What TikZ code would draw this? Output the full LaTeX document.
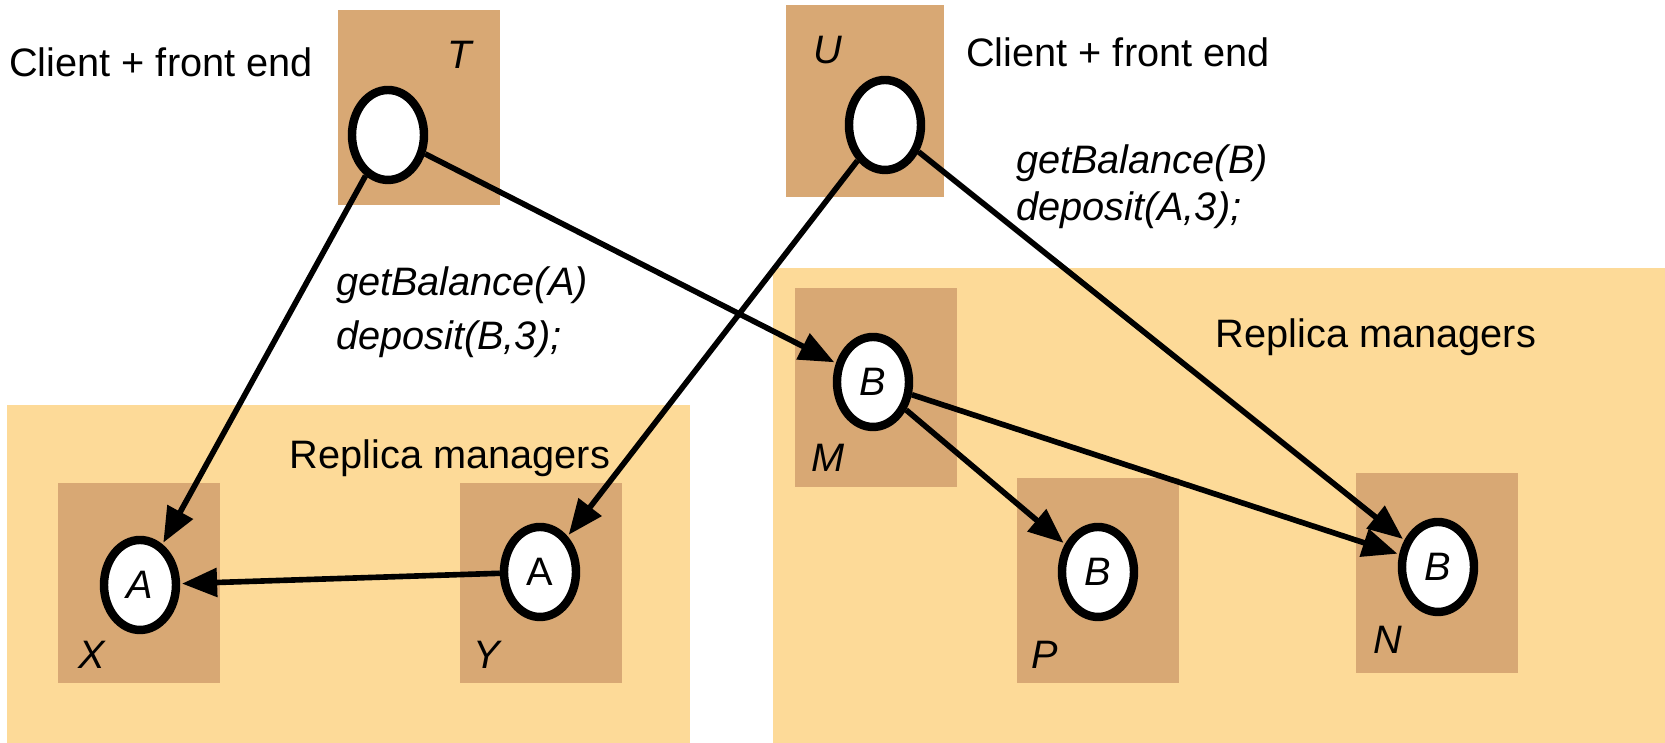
\documentclass[tikz,border=0pt]{standalone}
\usepackage{fontspec}
\setmainfont{Liberation Sans}
\usepackage{tikz}
\usetikzlibrary{arrows.meta, shapes.geometric}

\definecolor{rmlight}{RGB}{253,218,152}
\definecolor{rmdark}{RGB}{216,168,116}

\begin{document}
\begin{tikzpicture}[every node/.style={font=\fontsize{11.3}{13.5}\selectfont},
	group/.style={rectangle, fill=rmlight, inner sep=0pt},
	site/.style={rectangle, fill=rmdark, inner sep=0pt, minimum width=1.62cm, minimum height=2cm},
	obj/.style={ellipse, draw, line width=2.4pt, fill=white, inner sep=0pt, minimum width=0.72cm, minimum height=0.9cm},
	req/.style={-{Triangle[length=10pt, width=8pt]}, line width=1.6pt, shorten >=0.5pt},
	]
	\useasboundingbox (0,0) rectangle (16.65,7.43);
	
	% replica manager groups
	\node[group, minimum width=6.83cm, minimum height=3.38cm] (GL) at (3.485,1.69) {};
	\node[group, minimum width=8.92cm, minimum height=4.75cm] (GR) at (12.19,2.375) {};
	\node (RL) at (4.50,2.85) {Replica managers};
	\node (RR) at (13.76,4.06) {Replica managers};
	
	% sites
	\node[site, minimum height=1.95cm] (Tbox) at (4.19,6.355) {};
	\node[site, minimum width=1.58cm, minimum height=1.92cm] (Ubox) at (8.65,6.42) {};
	\node[site] (Xbox) at (1.39,1.60) {};
	\node[site] (Ybox) at (5.41,1.60) {};
	\node[site, minimum height=1.99cm] (Mbox) at (8.76,3.555) {};
	\node[site, minimum height=2.05cm] (Pbox) at (10.975,1.625) {};
	\node[site] (Nbox) at (14.365,1.70) {};
	
	\node (Tl) at (4.60,6.88) {\itshape T};
	\node (Ul) at (8.28,6.93) {\itshape U};
	\node (Xl) at (0.92,0.88) {\itshape X};
	\node (Yl) at (4.87,0.88) {\itshape Y};
	\node (Ml) at (8.28,2.85) {\itshape M};
	\node (Pl) at (10.45,0.88) {\itshape P};
	\node (Nl) at (13.88,1.03) {\itshape N};
	
	% clients
	\node (CL) at (1.61,6.81) {Client + front end};
	\node (CR) at (11.18,6.91) {Client + front end};
	\node[align=left, font=\fontsize{11.3}{13.5}\selectfont\itshape] (OpsT) at (4.62,4.31) {getBalance(A)\\[2pt] deposit(B,3);};
	\node[align=left, font=\fontsize{11.3}{13.5}\selectfont\itshape] (OpsU) at (11.42,5.56) {getBalance(B)\\ deposit(A,3);};
	
	% objects
	\node[obj] (T) at (3.88,6.08) {};
	\node[obj] (U) at (8.85,6.18) {};
	\node[obj] (X) at (1.40,1.58) {\itshape A};
	\node[obj] (Y) at (5.40,1.71) {A};
	\node[obj] (M) at (8.73,3.61) {\itshape B};
	\node[obj] (P) at (10.98,1.71) {\itshape B};
	\node[obj] (N) at (14.38,1.76) {\itshape B};
	
	% requests
	\draw[req] (T) -- (X);
	\draw[req] (T) -- (M);
	\draw[req] (U) -- (Y);
	\draw[req] (U) -- (N);
	\draw[req] (Y) -- (X);
	\draw[req] (M) -- (P);
	\draw[req] (M) -- (N);
\end{tikzpicture}
\end{document}
